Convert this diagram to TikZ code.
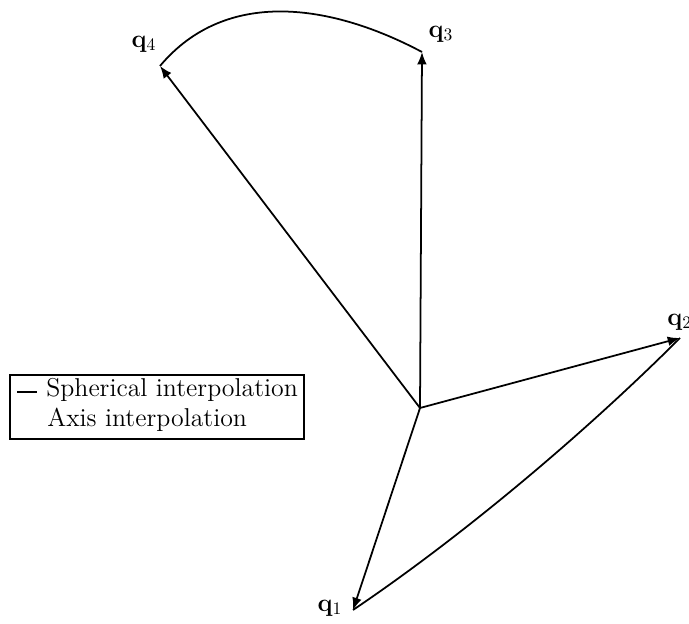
\documentclass[tikz,border=0pt]{standalone}
\usepackage{amsmath,amssymb}
\usetikzlibrary{arrows.meta,positioning}

\begin{document}
\begin{tikzpicture}[x=0.02cm,y=0.02cm,
    vec/.style={-{Latex[length=7pt,width=5.5pt]},line width=1pt},
    interp/.style={line width=1pt},
    qlabel/.style={font=\fontsize{14.5}{17}\selectfont,inner sep=0pt},
    legtext/.style={font=\fontsize{14.7}{17}\selectfont,anchor=base west,inner sep=0pt},
    legbox/.style={draw,line width=0.8pt,minimum width=5.88cm,minimum height=1.28cm,inner sep=0pt},
  ]
  \useasboundingbox (0,0) rectangle (689,624);
  \coordinate (O)  at (420,216);
  \coordinate (q1) at (353,14);
  \coordinate (q2) at (680,286);
  \coordinate (q3) at (422,572);
  \coordinate (q4) at (160,558);

  % interpolation curves
  \draw[interp] (q1) to[out=34,in=-135,looseness=0.8] (q2);
  \draw[interp] (q4) to[out=50,in=152] (q3);

  % quaternion vectors
  \draw[vec] (O)--(q1); \draw[vec] (O)--(q2);
  \draw[vec] (O)--(q3); \draw[vec] (O)--(q4);

  \node[qlabel] (l1) at (330,16)  {$\mathbf{q}_1$};
  \node[qlabel,anchor=west] (l2) at (667,302) {$\mathbf{q}_2$};
  \node[qlabel] (l3) at (441,590) {$\mathbf{q}_3$};
  \node[qlabel] (l4) at (144,580) {$\mathbf{q}_4$};

  % legend
  \node[legbox] (leg) at (157,217) {};
  \node[legtext] (sph)  at (46,227) {Spherical interpolation};
  \node[legtext] (axis) at (47,197) {Axis interpolation};
  \draw[line width=1pt] (sph.base west) ++(-29,5) -- ++(20,0);
\end{tikzpicture}
\end{document}
